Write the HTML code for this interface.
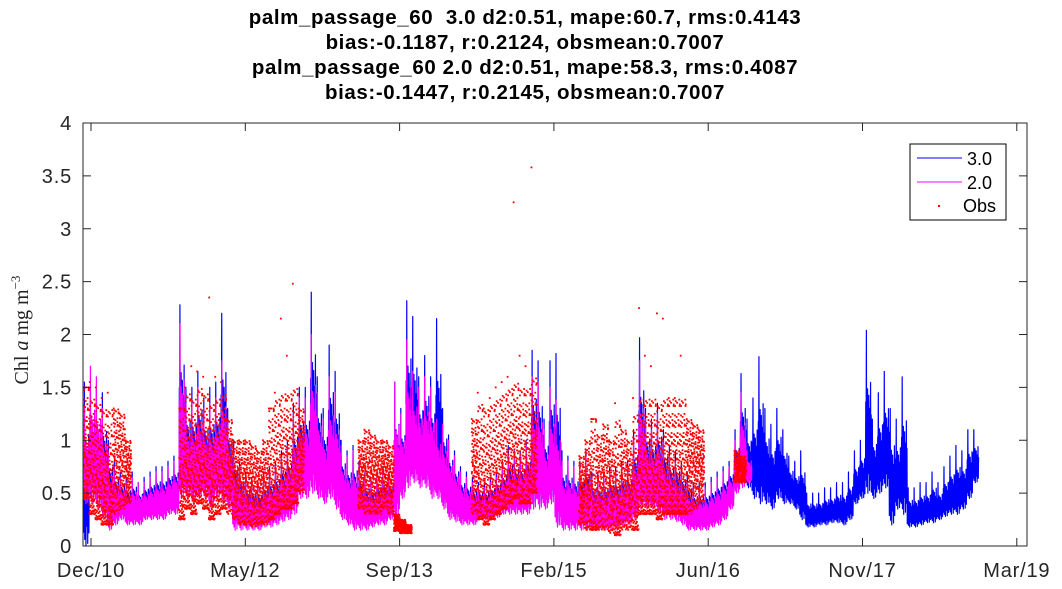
<!DOCTYPE html>
<html><head><meta charset="utf-8"><style>
body{margin:0;background:#fff;}
svg{display:block;font-family:"Liberation Sans",sans-serif;}
</style></head><body>
<svg id="chart" width="1062" height="589" viewBox="0 0 1062 589" xmlns="http://www.w3.org/2000/svg">
<g font-weight="bold" font-size="20.5" text-anchor="middle" fill="#000" letter-spacing="0.6">
<text x="525" y="24" xml:space="preserve">palm_passage_60  3.0 d2:0.51, mape:60.7, rms:0.4143</text>
<text x="525" y="49">bias:-0.1187, r:0.2124, obsmean:0.7007</text>
<text x="525" y="74">palm_passage_60 2.0 d2:0.51, mape:58.3, rms:0.4087</text>
<text x="525" y="99">bias:-0.1447, r:0.2145, obsmean:0.7007</text>
</g>
<text transform="translate(28,330) rotate(-90)" text-anchor="middle" font-family="'Liberation Serif',serif" font-size="20" fill="#222">Chl <tspan font-style="italic">a</tspan> mg m<tspan dy="-8" font-size="13">−3</tspan></text>
<g id="plot"></g>
<g id="axes"></g>
<g>
<rect x="910" y="144" width="96" height="76" fill="#fff" stroke="#000" stroke-width="1"/>
<line x1="917" y1="158" x2="962" y2="158" stroke="#0000ff"/>
<text x="967" y="165" font-size="18" fill="#000">3.0</text>
<line x1="917" y1="182" x2="962" y2="182" stroke="#ff00ff"/>
<text x="967" y="189" font-size="18" fill="#000">2.0</text>
<rect x="938" y="205" width="2" height="2" fill="#ff0000"/>
<text x="963" y="212" font-size="18" fill="#000">Obs</text>
</g>
</svg>
<script>
// bins every 20 days starting at day -25 (day 0 = 2010-12-01)
const binStartDay = -25, binDays = 20;
const xTickLabels = ["Dec/10","May/12","Sep/13","Feb/15","Jun/16","Nov/17","Mar/19"];
const xTickDays = [0,517,1034,1551,2068,2585,3102];
const yTickLabels = ["0","0.5","1","1.5","2","2.5","3","3.5","4"];
const yTickValues = [0,0.5,1,1.5,2,2.5,3,3.5,4];
const blueHi = [1.55,1.5,1.5,1.45,1.0,0.8,0.7,0.65,0.7,0.6,0.65,0.7,0.75,0.75,0.8,0.85,2.28,1.5,1.5,1.65,1.4,1.5,1.55,2.2,1.3,1.0,0.8,0.7,0.65,0.6,0.7,0.75,0.8,0.9,1.0,1.35,1.5,1.5,2.4,1.6,1.3,1.9,1.65,1.0,0.9,0.95,0.8,0.7,0.65,0.7,0.75,0.7,1.55,1.3,2.32,2.17,1.6,1.8,1.6,2.15,1.3,1.05,0.9,0.75,0.7,0.65,0.6,0.6,0.65,0.7,0.8,0.95,0.9,0.9,1.0,1.85,1.75,1.2,1.75,1.82,0.9,0.85,0.8,0.8,0.9,0.7,0.7,0.7,0.75,0.75,0.8,0.8,1.1,1.97,1.3,1.2,1.35,1.1,0.95,0.9,0.8,0.7,0.6,0.6,0.6,0.65,0.7,0.75,0.8,1.1,1.63,1.2,1.4,1.79,1.3,1.15,1.3,1.1,0.85,0.8,0.9,0.5,0.5,0.5,0.55,0.55,0.6,0.6,0.7,0.9,1.0,2.04,1.2,1.45,1.65,1.3,1.2,1.6,0.55,0.55,0.6,0.6,0.7,0.6,0.75,0.85,0.95,0.9,1.1,1.1];
const blueLo = [0.0,0.45,0.4,0.3,0.2,0.25,0.3,0.25,0.25,0.25,0.3,0.3,0.3,0.3,0.35,0.35,0.5,0.5,0.45,0.5,0.5,0.4,0.5,0.45,0.4,0.2,0.2,0.18,0.2,0.2,0.22,0.22,0.25,0.28,0.3,0.35,0.5,0.5,0.55,0.5,0.45,0.5,0.4,0.3,0.25,0.2,0.2,0.2,0.22,0.25,0.25,0.3,0.3,0.5,0.6,0.65,0.6,0.6,0.5,0.5,0.4,0.3,0.28,0.25,0.25,0.25,0.3,0.3,0.3,0.32,0.35,0.35,0.35,0.35,0.35,0.4,0.4,0.4,0.45,0.2,0.18,0.2,0.2,0.2,0.2,0.2,0.2,0.2,0.2,0.2,0.22,0.25,0.3,0.4,0.4,0.4,0.35,0.3,0.3,0.28,0.25,0.2,0.18,0.18,0.2,0.22,0.25,0.3,0.4,0.55,0.6,0.55,0.45,0.4,0.4,0.35,0.45,0.4,0.4,0.35,0.25,0.18,0.18,0.2,0.2,0.22,0.22,0.2,0.25,0.4,0.45,0.5,0.45,0.5,0.55,0.2,0.35,0.3,0.18,0.18,0.2,0.22,0.22,0.25,0.28,0.3,0.3,0.35,0.45,0.6];
const magHi = [1.3,1.7,1.6,1.3,0.9,0.75,0.65,0.6,0.65,0.6,0.6,0.65,0.7,0.7,0.75,0.8,2.1,1.35,1.35,1.5,1.3,1.35,1.4,1.75,1.2,0.9,0.75,0.65,0.6,0.55,0.65,0.7,0.75,0.85,0.95,1.25,1.4,1.4,2.0,1.45,1.2,1.6,1.45,0.95,0.85,0.9,0.75,0.65,0.6,0.65,0.7,0.65,1.55,1.25,1.95,1.65,1.5,1.6,1.5,1.2,1.15,1.0,0.85,0.7,0.65,0.6,0.55,0.55,0.6,0.65,0.75,0.85,0.85,0.85,0.95,1.6,1.55,1.1,1.5,1.38,0.8,0.8,0.75,0.75,0.85,0.65,0.65,0.65,0.7,0.7,0.75,0.75,1.0,1.75,1.2,1.1,1.25,1.0,0.85,0.8,0.7,0.6,0.55,0.55,0.55,0.6,0.65,0.7,0.75,1.0,1.45,0.9];
const magLo = [0.4,0.4,0.35,0.25,0.15,0.2,0.25,0.2,0.2,0.2,0.25,0.25,0.25,0.25,0.3,0.3,0.45,0.45,0.4,0.45,0.45,0.35,0.45,0.4,0.35,0.15,0.15,0.15,0.15,0.15,0.18,0.18,0.2,0.23,0.25,0.3,0.45,0.45,0.5,0.45,0.4,0.45,0.35,0.25,0.2,0.15,0.15,0.15,0.18,0.2,0.2,0.25,0.25,0.45,0.55,0.6,0.55,0.55,0.45,0.45,0.35,0.25,0.23,0.2,0.2,0.2,0.25,0.25,0.25,0.27,0.3,0.3,0.3,0.3,0.3,0.35,0.35,0.35,0.4,0.18,0.15,0.15,0.15,0.15,0.15,0.15,0.15,0.15,0.15,0.15,0.18,0.2,0.25,0.35,0.35,0.35,0.3,0.25,0.25,0.23,0.2,0.15,0.15,0.15,0.15,0.18,0.2,0.25,0.35,0.5,0.55,0.6];
const obsHi = [1.5,1.55,1.5,1.4,1.45,1.3,1.25,1.0,null,null,null,null,null,null,null,null,1.3,1.5,1.7,1.65,1.6,2.35,1.6,1.55,1.2,1.0,1.0,1.0,0.95,0.9,1.0,1.3,1.45,2.15,1.8,2.48,1.3,null,null,null,null,null,null,null,null,null,1.0,1.1,1.05,1.0,1.0,0.95,0.3,0.25,0.2,null,null,null,null,null,null,null,null,null,null,1.2,1.45,1.3,1.4,1.5,1.55,1.6,3.25,1.8,1.7,3.58,null,null,null,null,null,null,null,0.85,1.0,1.2,1.05,1.15,1.0,1.35,1.1,1.0,1.4,2.25,1.8,1.7,2.2,2.15,1.4,1.4,1.8,1.2,1.15,1.1,null,null,null,null,null,0.9,0.85];
const obsLo = [0.45,0.3,0.25,0.2,0.2,0.3,0.35,0.4,null,null,null,null,null,null,null,null,0.25,0.35,0.3,0.4,0.35,0.25,0.3,0.35,0.3,0.25,0.2,0.2,0.18,0.2,0.2,0.25,0.3,0.35,0.35,0.4,0.5,null,null,null,null,null,null,null,null,null,0.35,0.3,0.3,0.3,0.35,0.3,0.14,0.12,0.12,null,null,null,null,null,null,null,null,null,null,0.3,0.25,0.2,0.25,0.3,0.35,0.4,0.45,0.4,0.4,0.5,null,null,null,null,null,null,null,0.2,0.15,0.15,0.15,0.15,0.12,0.1,0.15,0.15,0.15,0.3,0.3,0.3,0.25,0.3,0.3,0.3,0.3,0.3,0.35,0.4,null,null,null,null,null,0.6,0.6];

const L=83,R=1027,T=123,B=546;
const pxPerDay = 154.3/517, x0Day = 91;
function xScale(d){return x0Day + d*pxPerDay;}
function yScale(v){return B - v*(B-T)/4;}
const NS="http://www.w3.org/2000/svg";
const plot=document.getElementById('plot'), axes=document.getElementById('axes');
function mk(tag,attrs,parent){const e=document.createElementNS(NS,tag);for(const k in attrs)e.setAttribute(k,attrs[k]);parent.appendChild(e);return e;}

const zig=[0.1,0.7,0.3,1.0,0.05,0.6,0.25,0.8,0.0,0.55,0.35,0.75,0.15,0.65,0.02,0.5,0.3,0.85,0.1,0.6];
function bandLine(hi,lo,color,name){
  let pts=[];
  for(let i=0;i<hi.length;i++){
    const d0=binStartDay+i*binDays;
    for(let j=0;j<zig.length;j++){
      const d=d0+j*binDays/zig.length;
      const f=zig[j];
      const v=(j===3)?hi[i]:lo[i]+(hi[i]-lo[i])*f*0.8;
      pts.push(xScale(d).toFixed(2)+','+yScale(v).toFixed(1));
    }
  }
  const p=mk('polyline',{points:pts.join(' '),fill:'none',stroke:color,'stroke-width':1.2,'stroke-linejoin':'round'},plot);
  
  
}
bandLine(blueHi,blueLo,'#0000ff','series-3-0');
bandLine(magHi,magLo,'#ff00ff','series-2-0');

const dotU=[0.05,0.9,0.35,0.6,0.15,0.75,0.45,0.25,0.95,0.55,0.3,0.7,0.1,0.85,0.5,0.4,0.65,0.2];
const dotV=[0.5,0.2,0.7,0.35,0.9,0.1,0.55,0.8,0.3,0.45,0.05,0.65,0.25,0.6,0.4,0.15,0.5,0.35];
const og=mk('g',{},plot);


const nDots=110;
for(let i=0;i<obsHi.length;i++){
  if(obsHi[i]===null)continue;
  const d0=binStartDay+i*binDays;
  const rng=obsHi[i]-obsLo[i];
  for(let j=0;j<nDots;j++){
    const u=(dotU[j%18]+Math.floor(j/18)*0.161)%1;
    let f=(dotV[(j*7)%18]+Math.floor(j/18)*0.093)%1;
    if(rng>1.0) f=f*f*(1.0/rng)*1.1;
    else f=Math.pow(f,1.3);
    const v=(j===0)?obsHi[i]:obsLo[i]+rng*Math.min(f,1);
    const r=mk('rect',{x:(xScale(d0+u*binDays)-0.9).toFixed(1),y:(yScale(v)-0.9).toFixed(1),width:1.8,height:1.8,fill:'#ff0000'},og);
    
    
  }
}

const box=mk('rect',{x:L,y:T,width:R-L,height:B-T,fill:'none',stroke:'#262626','stroke-width':1},axes);


yTickValues.forEach((v,i)=>{
  const y=yScale(v);
  mk('line',{x1:L,y1:y,x2:L+8,y2:y,stroke:'#262626'},axes);
  mk('line',{x1:R,y1:y,x2:R-8,y2:y,stroke:'#262626'},axes);
  const t=mk('text',{x:72,y:y+7,'text-anchor':'end','font-size':20,fill:'#262626','letter-spacing':'0.8'},axes);
  t.textContent=yTickLabels[i];
  
  
});
xTickDays.forEach((d,i)=>{
  const x=xScale(d);
  mk('line',{x1:x,y1:B,x2:x,y2:B-8,stroke:'#262626'},axes);
  mk('line',{x1:x,y1:T,x2:x,y2:T+8,stroke:'#262626'},axes);
  const t=mk('text',{x:x,y:577,'text-anchor':'middle','font-size':20,fill:'#262626','letter-spacing':'0.8'},axes);
  t.textContent=xTickLabels[i];
  
  
});
</script>
</body></html>
